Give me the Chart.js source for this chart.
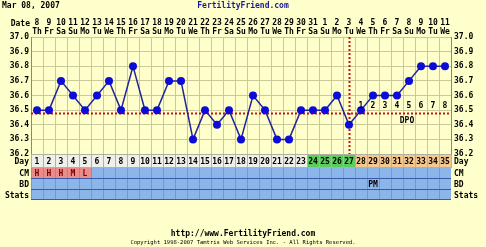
<!DOCTYPE html>
<html>
<head>
<meta charset="utf-8">
<script src="https://cdn.jsdelivr.net/npm/chart.js@4.4.1/dist/chart.umd.min.js"></script>
<style>
  html, body { margin: 0; padding: 0; background: #ffffcc; }
  #wrap { width: 486px; height: 247px; position: relative; }
</style>
</head>
<body>
<div id="wrap"><canvas id="bbtChart"></canvas></div>
<script>
// Chart data
const cycleDays = ['1','2','3','4','5','6','7','8','9','10','11','12','13','14','15','16','17','18',
  '19','20','21','22','23','24','25','26','27','28','29','30','31','32','33','34','35'];
const dates = ['8','9','10','11','12','13','14','15','16','17','18','19','20','21','22','23','24','25',
  '26','27','28','29','30','31','1','2','3','4','5','6','7','8','9','10','11'];
const weekdays = ['Th','Fr','Sa','Su','Mo','Tu','We','Th','Fr','Sa','Su','Mo','Tu','We','Th','Fr','Sa','Su',
  'Mo','Tu','We','Th','Fr','Sa','Su','Mo','Tu','We','Th','Fr','Sa','Su','Mo','Tu','We'];
const temps = [36.5, 36.5, 36.7, 36.6, 36.5, 36.6, 36.7, 36.5, 36.8, 36.5, 36.5, 36.7, 36.7, 36.3, 36.5, 36.4,
  36.5, 36.3, 36.6, 36.5, 36.3, 36.3, 36.5, 36.5, 36.5, 36.6, 36.4, 36.5, 36.6, 36.6, 36.6, 36.7, 36.8, 36.8, 36.8];
const dpoLabels = ['','','','','','','','','','','','','','','','','','','','','','','','','','','',
  '1','2','3','4','5','6','7','8'];
const cmLabels = ['H','H','H','M','L'];
const bdLabels = {29: 'PM'};
const fertileDays = [24, 25, 26, 27];
const lutealDays = [28, 29, 30, 31, 32, 33, 34, 35];
const coverline = 36.48;
const ovulationDay = 27;
const yTicks = { min: 36.2, max: 37.0, step: 0.1 };

const MONO = '"DejaVu Sans Mono", monospace';

// Draws the header text, coverline, ovulation line and the bottom rows
const chartExtras = {
  id: 'chartExtras',
  beforeDatasetsDraw(chart) {
    const { ctx, chartArea, scales } = chart;
    const x = scales.x;
    const y = scales.y;
    ctx.save();
    // coverline
    ctx.strokeStyle = '#cc1111';
    ctx.lineWidth = 2;
    ctx.setLineDash([2, 2]);
    const cy = Math.round(y.getPixelForValue(coverline)) + 0.5;
    ctx.beginPath();
    ctx.moveTo(chartArea.left, cy);
    ctx.lineTo(chartArea.right, cy);
    ctx.stroke();
    // ovulation line
    const ox = Math.round(x.getPixelForValue(ovulationDay - 1)) + 0.5;
    ctx.beginPath();
    ctx.moveTo(ox, chartArea.top);
    ctx.lineTo(ox, chartArea.bottom + 6);
    ctx.stroke();
    ctx.restore();
  },
  afterDraw(chart) {
    const { ctx, chartArea, scales } = chart;
    const x = scales.x;
    const y = scales.y;
    const half = (x.getPixelForValue(1) - x.getPixelForValue(0)) / 2;
    ctx.save();
    ctx.font = 'bold 8px ' + MONO;
    ctx.textBaseline = 'middle';

    // titles
    ctx.fillStyle = '#000';
    ctx.textAlign = 'left';
    ctx.fillText('Mar 08, 2007', 2, 6);
    ctx.fillStyle = '#1a1a99';
    ctx.textAlign = 'center';
    ctx.fillText('FertilityFriend.com', 243, 6);
    ctx.fillStyle = '#000';
    ctx.textAlign = 'right';
    ctx.fillText('Date', 30, 24);

    // DPO numbers
    const cy = y.getPixelForValue(coverline);
    ctx.textAlign = 'center';
    dpoLabels.forEach((d, i) => {
      if (d) ctx.fillText(d, x.getPixelForValue(i), cy - 7);
    });
    ctx.fillText('DPO', x.getPixelForValue(31) - 2, cy + 8);

    // bottom rows
    const rows = [
      { name: 'Day', top: chartArea.bottom, h: 13 },
      { name: 'CM', top: chartArea.bottom + 14, h: 10 },
      { name: 'BD', top: chartArea.bottom + 25, h: 10 },
      { name: 'Stats', top: chartArea.bottom + 36, h: 9 }
    ];
    const left = chartArea.left;
    const right = chartArea.right;

    // dark blue band behind the observation rows
    ctx.fillStyle = '#3a5aa8';
    ctx.fillRect(left, rows[1].top - 1, right - left, rows[3].top + rows[3].h - rows[1].top + 2);

    cycleDays.forEach((d, i) => {
      const cx = x.getPixelForValue(i);
      const x0 = Math.round(cx - half);
      const w = Math.round(cx + half) - x0;
      const day = i + 1;
      // day cell
      let fill = '#f0f0ea';
      if (fertileDays.includes(day)) fill = '#5ccc5c';
      if (lutealDays.includes(day)) fill = '#f5c98e';
      ctx.fillStyle = fill;
      ctx.fillRect(x0, rows[0].top, w, rows[0].h);
      ctx.strokeStyle = '#b0b0a4';
      ctx.lineWidth = 1;
      ctx.strokeRect(x0 + 0.5, rows[0].top + 0.5, w, rows[0].h);
      ctx.fillStyle = '#000';
      ctx.fillText(d, cx, rows[0].top + rows[0].h / 2 + 1);

      // observation cells
      for (let r = 1; r < 4; r++) {
        let c = '#8cb6ea';
        if (r === 1 && cmLabels[i]) c = '#e88c8c';
        ctx.fillStyle = c;
        ctx.fillRect(x0, rows[r].top, w, rows[r].h);
        ctx.fillStyle = '#7498cc';
        ctx.fillRect(x0, rows[r].top, 1, rows[r].h);
      }
      if (cmLabels[i]) {
        ctx.fillStyle = '#800000';
        ctx.fillText(cmLabels[i], cx, rows[1].top + rows[1].h / 2 + 1);
      }
      if (bdLabels[day]) {
        ctx.fillStyle = '#000';
        ctx.fillText(bdLabels[day], cx, rows[2].top + rows[2].h / 2 + 1);
      }
    });

    // row names on both sides
    ctx.fillStyle = '#000';
    rows.forEach(r => {
      ctx.textAlign = 'right';
      ctx.fillText(r.name, left - 2, r.top + r.h / 2 + 1);
      ctx.textAlign = 'left';
      ctx.fillText(r.name, right + 3, r.top + r.h / 2 + 1);
    });

    // footer
    ctx.textAlign = 'center';
    ctx.fillText('http://www.FertilityFriend.com', 243, 234);
    ctx.font = '5.5px ' + MONO;
    ctx.fillText('Copyright 1998-2007 Tamtris Web Services Inc. - All Rights Reserved.', 243, 243);
    ctx.restore();
  }
};

const ctx = document.getElementById('bbtChart').getContext('2d');
new Chart(ctx, {
  type: 'line',
  data: {
    labels: cycleDays,
    datasets: [{
      data: temps,
      borderColor: '#22229a',
      borderWidth: 1.5,
      pointRadius: 4,
      pointBackgroundColor: '#0c0cd8',
      pointBorderColor: '#0c0cd8',
      pointBorderWidth: 0,
      tension: 0
    }]
  },
  plugins: [chartExtras],
  options: {
    responsive: true,
    maintainAspectRatio: false,
    animation: false,
    layout: { padding: { left: 0, right: 0, top: 0, bottom: 93 } },
    plugins: { legend: { display: false }, tooltip: { enabled: false } },
    scales: {
      x: {
        type: 'category',
        offset: true,
        grid: { offset: true, color: '#c9c99a', drawTicks: false },
        border: { display: false },
        ticks: { display: false },
        afterFit: (s) => { s.height = 0; }
      },
      xTop: {
        type: 'category',
        position: 'top',
        offset: true,
        grid: { display: false, drawTicks: false },
        border: { display: false },
        ticks: {
          color: '#000',
          padding: 1,
          autoSkip: false,
          maxRotation: 0,
          font: { family: MONO, size: 8, weight: 'bold', lineHeight: 1.1 },
          callback: (v, i) => [dates[i], weekdays[i]]
        },
        afterFit: (s) => { s.height = 37; }
      },
      y: {
        min: yTicks.min,
        max: yTicks.max,
        position: 'left',
        grid: { color: '#c9c99a', drawTicks: false },
        border: { color: '#8a8a70' },
        ticks: {
          stepSize: yTicks.step,
          padding: 2,
          color: '#000',
          font: { family: MONO, size: 8, weight: 'bold' },
          callback: (v) => v.toFixed(1)
        },
        afterFit: (s) => { s.width = 31; }
      },
      y2: {
        min: yTicks.min,
        max: yTicks.max,
        position: 'right',
        grid: { display: false, drawTicks: false },
        border: { color: '#8a8a70' },
        ticks: {
          stepSize: yTicks.step,
          padding: 3,
          color: '#000',
          font: { family: MONO, size: 8, weight: 'bold' },
          callback: (v) => v.toFixed(1)
        },
        afterFit: (s) => { s.width = 35; }
      }
    }
  }
});
</script>
</body>
</html>
